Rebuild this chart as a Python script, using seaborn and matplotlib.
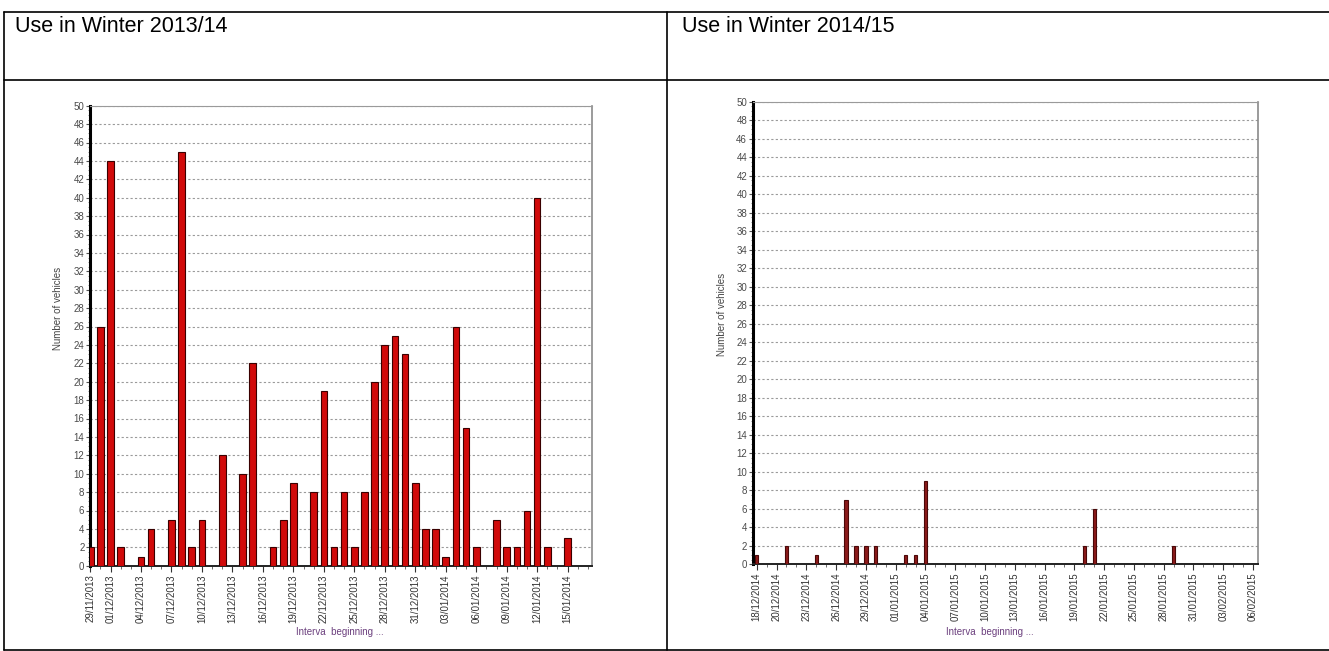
import matplotlib
matplotlib.use("Agg")
import matplotlib.pyplot as plt
from matplotlib.lines import Line2D
from matplotlib.ticker import MultipleLocator
import pandas as pd
import seaborn as sns

# winter 2013/14, days with use
start_1314 = "29/11/2013"
dates_1314 = ["29/11/2013", "30/11/2013", "01/12/2013", "02/12/2013", "04/12/2013", "05/12/2013",
              "07/12/2013", "08/12/2013", "09/12/2013", "10/12/2013", "12/12/2013", "14/12/2013",
              "15/12/2013", "17/12/2013", "18/12/2013", "19/12/2013", "21/12/2013", "22/12/2013",
              "23/12/2013", "24/12/2013", "25/12/2013", "26/12/2013", "27/12/2013", "28/12/2013",
              "29/12/2013", "30/12/2013", "31/12/2013", "01/01/2014", "02/01/2014", "03/01/2014",
              "04/01/2014", "05/01/2014", "06/01/2014", "08/01/2014", "09/01/2014", "10/01/2014",
              "11/01/2014", "12/01/2014", "13/01/2014", "15/01/2014"]
vehicles_1314 = [2, 26, 44, 2, 1, 4,
                 5, 45, 2, 5, 12, 10,
                 22, 2, 5, 9, 8, 19,
                 2, 8, 2, 8, 20, 24,
                 25, 23, 9, 4, 4, 1,
                 26, 15, 2, 5, 2, 2,
                 6, 40, 2, 3]
ticks_1314 = ["29/11/2013", "01/12/2013", "04/12/2013", "07/12/2013", "10/12/2013", "13/12/2013",
              "16/12/2013", "19/12/2013", "22/12/2013", "25/12/2013", "28/12/2013", "31/12/2013",
              "03/01/2014", "06/01/2014", "09/01/2014", "12/01/2014", "15/01/2014"]

# winter 2014/15, days with use
start_1415 = "18/12/2014"
dates_1415 = ["18/12/2014", "21/12/2014", "24/12/2014", "27/12/2014", "28/12/2014", "29/12/2014",
              "30/12/2014", "02/01/2015", "03/01/2015", "04/01/2015", "20/01/2015", "21/01/2015",
              "29/01/2015"]
vehicles_1415 = [1, 2, 1, 7, 2, 2,
                 2, 1, 1, 9, 2, 6,
                 2]
ticks_1415 = ["18/12/2014", "20/12/2014", "23/12/2014", "26/12/2014", "29/12/2014", "01/01/2015",
              "04/01/2015", "07/01/2015", "10/01/2015", "13/01/2015", "16/01/2015", "19/01/2015",
              "22/01/2015", "25/01/2015", "28/01/2015", "31/01/2015", "03/02/2015", "06/02/2015"]

headers = ["Use in Winter 2013/14", "Use in Winter 2014/15"]

sns.set_style("white")
plt.rcParams['font.family'] = ['Liberation Sans', 'DejaVu Sans']


def day_offset(dates, start):
    d = pd.to_datetime(pd.Series(dates), format="%d/%m/%Y")
    s = pd.to_datetime(start, format="%d/%m/%Y")
    return (d - s).dt.days


def draw(ax, dates, values, start, ticks, face, edge, width, xlim, ylab_xy, xlab_xy):
    df = pd.DataFrame({"day": day_offset(dates, start), "n": values})
    sns.barplot(data=df, x="day", y="n", native_scale=True, width=width,
                color=face, edgecolor=edge, linewidth=0.8, saturation=1, ax=ax, zorder=3)
    ax.set_xlim(*xlim)
    ax.set_ylim(0, 50)
    ax.yaxis.set_major_locator(MultipleLocator(2))
    ax.yaxis.set_minor_locator(MultipleLocator(0.5))
    ax.xaxis.set_minor_locator(MultipleLocator(1))
    ax.set_xticks(day_offset(ticks, start).tolist())
    ax.set_xticklabels(ticks, rotation=90, fontsize=7, color="#333333")
    ax.tick_params(axis="y", labelsize=7, labelcolor="#4a4a4a", colors="#555555", length=3, width=0.8,
                   direction="out", left=True, pad=1)
    ax.tick_params(axis="y", which="minor", length=1.5, color="#777777", left=True)
    ax.tick_params(axis="x", length=4, width=0.8, color="#333333", bottom=True, pad=2)
    ax.tick_params(axis="x", which="minor", length=2, color="#555555", bottom=True)
    ax.yaxis.grid(True, linestyle=(0, (2, 2)), color="#9a9a9a", linewidth=0.8)
    ax.set_axisbelow(True)
    ax.spines["left"].set_color("black")
    ax.spines["left"].set_linewidth(2.2)
    ax.spines["bottom"].set_color("#222222")
    ax.spines["bottom"].set_linewidth(1.4)
    ax.spines["top"].set_color("#9a9a9a")
    ax.spines["top"].set_linestyle((0, (2, 1)))
    ax.spines["right"].set_color("#8a8a8a")
    ax.spines["right"].set_linewidth(1.2)
    ax.set_ylabel("Number of vehicles", fontsize=7, color="#444444")
    ax.yaxis.set_label_coords(*ylab_xy)
    ax.set_xlabel("Interva  beginning ...", fontsize=7, color="#6b3f7d")
    ax.xaxis.set_label_coords(*xlab_xy)


fig = plt.figure(figsize=(13.29, 6.51), dpi=100)
W, H = 1329, 651

ax1 = fig.add_axes([90 / W, 1 - 565.7 / H, 502 / W, 460 / H])
draw(ax1, dates_1314, vehicles_1314, start_1314, ticks_1314, "#d10a0a", "#3a0000", 0.65,
     (-0.02, 49.4), (-0.054, 0.56), (0.498, -0.133))

ax2 = fig.add_axes([752.7 / W, 1 - 564.3 / H, 505.3 / W, 462.6 / H])
draw(ax2, dates_1415, vehicles_1415, start_1415, ticks_1415, "#8b1a1a", "#4a0808", 0.33,
     (-0.4, 50.5), (-0.051, 0.54), (0.47, -0.1355))

# table frame around the two charts
def hline(y, x0, x1):
    fig.add_artist(Line2D([x0 / W, x1 / W], [1 - y / H, 1 - y / H], color="black", lw=1.2))


def vline(x, y0, y1):
    fig.add_artist(Line2D([x / W, x / W], [1 - y0 / H, 1 - y1 / H], color="black", lw=1.2))


hline(11.7, 3.5, W)
hline(80, 3.5, W)
hline(649.5, 3.5, W)
vline(3.5, 11.7, 649.5)
vline(666.7, 11.7, 649.5)

fig.text(15 / W, 1 - 32 / H, headers[0], fontsize=15.5, va="baseline", ha="left", color="black")
fig.text(682 / W, 1 - 32 / H, headers[1], fontsize=15.5, va="baseline", ha="left", color="black")

fig.savefig("out.png", dpi=100)
